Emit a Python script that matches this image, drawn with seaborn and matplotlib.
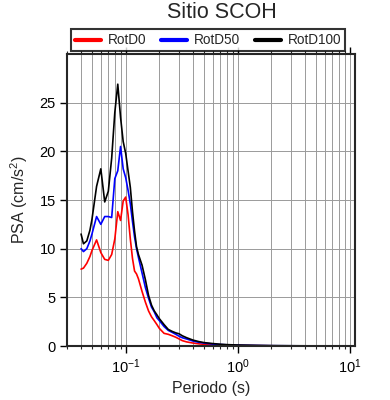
import matplotlib
matplotlib.use("Agg")
import matplotlib.pyplot as plt
import matplotlib.ticker as mticker
import numpy as np
import pandas as pd
import seaborn as sns

# periods (s) and spectral values (cm/s^2)
periodo = [0.040, 0.042, 0.045, 0.048, 0.050, 0.055, 0.060, 0.065, 0.070, 0.075,
           0.080, 0.085, 0.090, 0.095, 0.100, 0.105, 0.110, 0.115, 0.120, 0.125,
           0.130, 0.140, 0.150, 0.160, 0.170, 0.180, 0.190, 0.200, 0.220, 0.240,
           0.260, 0.280, 0.300, 0.320, 0.350, 0.400, 0.450, 0.500, 0.600, 0.700,
           0.800, 0.900, 1.0, 1.5, 2.0, 3.0, 4.0, 5.0, 7.5, 10.0]

rotd0 = [7.9, 8.0, 8.5, 9.2, 9.8, 10.9, 9.6, 8.9, 8.8, 9.4,
         11.0, 13.8, 12.9, 14.9, 15.3, 13.5, 11.0, 9.0, 7.7, 7.4,
         6.9, 5.6, 4.5, 3.6, 3.0, 2.6, 2.2, 1.8, 1.3, 1.2,
         1.05, 0.9, 0.72, 0.55, 0.42, 0.3, 0.22, 0.17, 0.12, 0.09,
         0.07, 0.06, 0.05, 0.03, 0.02, 0.01, 0.01, 0.005, 0.003, 0.002]

rotd50 = [10.0, 9.7, 10.0, 10.8, 11.5, 13.3, 12.5, 13.3, 13.3, 13.2,
          17.2, 18.0, 20.5, 18.2, 17.3, 16.0, 14.6, 12.8, 11.2, 10.0,
          9.1, 7.5, 6.0, 4.9, 4.0, 3.5, 2.9, 2.6, 2.0, 1.6,
          1.4, 1.2, 1.0, 0.85, 0.72, 0.5, 0.38, 0.3, 0.2, 0.15,
          0.12, 0.1, 0.08, 0.05, 0.03, 0.02, 0.015, 0.01, 0.006, 0.004]

rotd100 = [11.5, 10.5, 10.8, 11.9, 13.0, 16.4, 18.2, 14.8, 15.9, 19.3,
           24.0, 26.9, 23.5, 21.0, 19.8, 18.0, 16.3, 13.8, 11.8, 10.2,
           9.4, 8.3, 6.8, 5.2, 4.2, 3.6, 3.2, 2.8, 2.2, 1.7,
           1.5, 1.35, 1.25, 1.05, 0.85, 0.6, 0.45, 0.35, 0.25, 0.18,
           0.14, 0.12, 0.1, 0.06, 0.04, 0.025, 0.018, 0.012, 0.008, 0.005]

componentes = ["RotD0", "RotD50", "RotD100"]
colores = ["#ff0000", "#0000ff", "#000000"]

df = pd.DataFrame({
    "Periodo": periodo * 3,
    "PSA": rotd0 + rotd50 + rotd100,
    "comp": sum([[c] * len(periodo) for c in componentes], []),
})

sns.set_style("ticks")
plt.rcParams["font.family"] = ["Liberation Sans", "DejaVu Sans"]
plt.rcParams["mathtext.fontset"] = "custom"
plt.rcParams["mathtext.rm"] = "Liberation Sans"
plt.rcParams["mathtext.it"] = "Liberation Sans:italic"

fig = plt.figure(figsize=(3.9, 4.0), dpi=100)
ax = fig.add_axes([0.172, 0.135, 0.738, 0.73])

sns.lineplot(data=df, x="Periodo", y="PSA", hue="comp", palette=colores,
             linewidth=1.2, ax=ax, legend=False, sort=False)

ax.set_xscale("log")
ax.set_xlim(0.03, 11.1)
ax.set_ylim(0, 30)
ax.set_yticks(np.arange(0, 30, 5))
ax.xaxis.set_major_locator(mticker.LogLocator(base=10, numticks=10))
ax.xaxis.set_minor_locator(mticker.LogLocator(base=10, subs=np.arange(2, 10), numticks=20))
ax.xaxis.set_minor_formatter(mticker.NullFormatter())

ax.grid(True, which="both", axis="x", color="#9a9a9a", linewidth=0.7)
ax.grid(True, which="major", axis="y", color="#9a9a9a", linewidth=0.7)
ax.set_axisbelow(True)

for s in ax.spines.values():
    s.set_linewidth(1.5)
ax.tick_params(axis="both", which="major", direction="out", length=5, width=1,
               labelsize=10.5, colors="black", pad=3)
ax.tick_params(axis="x", which="minor", direction="out", length=2.5, width=0.8)
ax.tick_params(axis="x", which="both", top=True)

ax.set_xlabel("Periodo (s)", fontsize=11.5, labelpad=4)
ax.set_ylabel("PSA (cm/s$^2$)", fontsize=11.5, labelpad=7)

fig.text(0.57, 0.968, "Sitio SCOH", ha="center", va="center", fontsize=15.5)

handles = [plt.Line2D([], [], color=c, linewidth=3) for c in colores]
leg = fig.legend(handles, componentes, loc="center", bbox_to_anchor=(0.533, 0.899),
                 ncol=3, frameon=True, fancybox=False, fontsize=9.8,
                 handlelength=1.9, columnspacing=1.1, handletextpad=0.5,
                 borderpad=0.3, borderaxespad=0)
leg.get_frame().set_edgecolor("black")
leg.get_frame().set_linewidth(1.5)

fig.savefig("out.png", dpi=100)
